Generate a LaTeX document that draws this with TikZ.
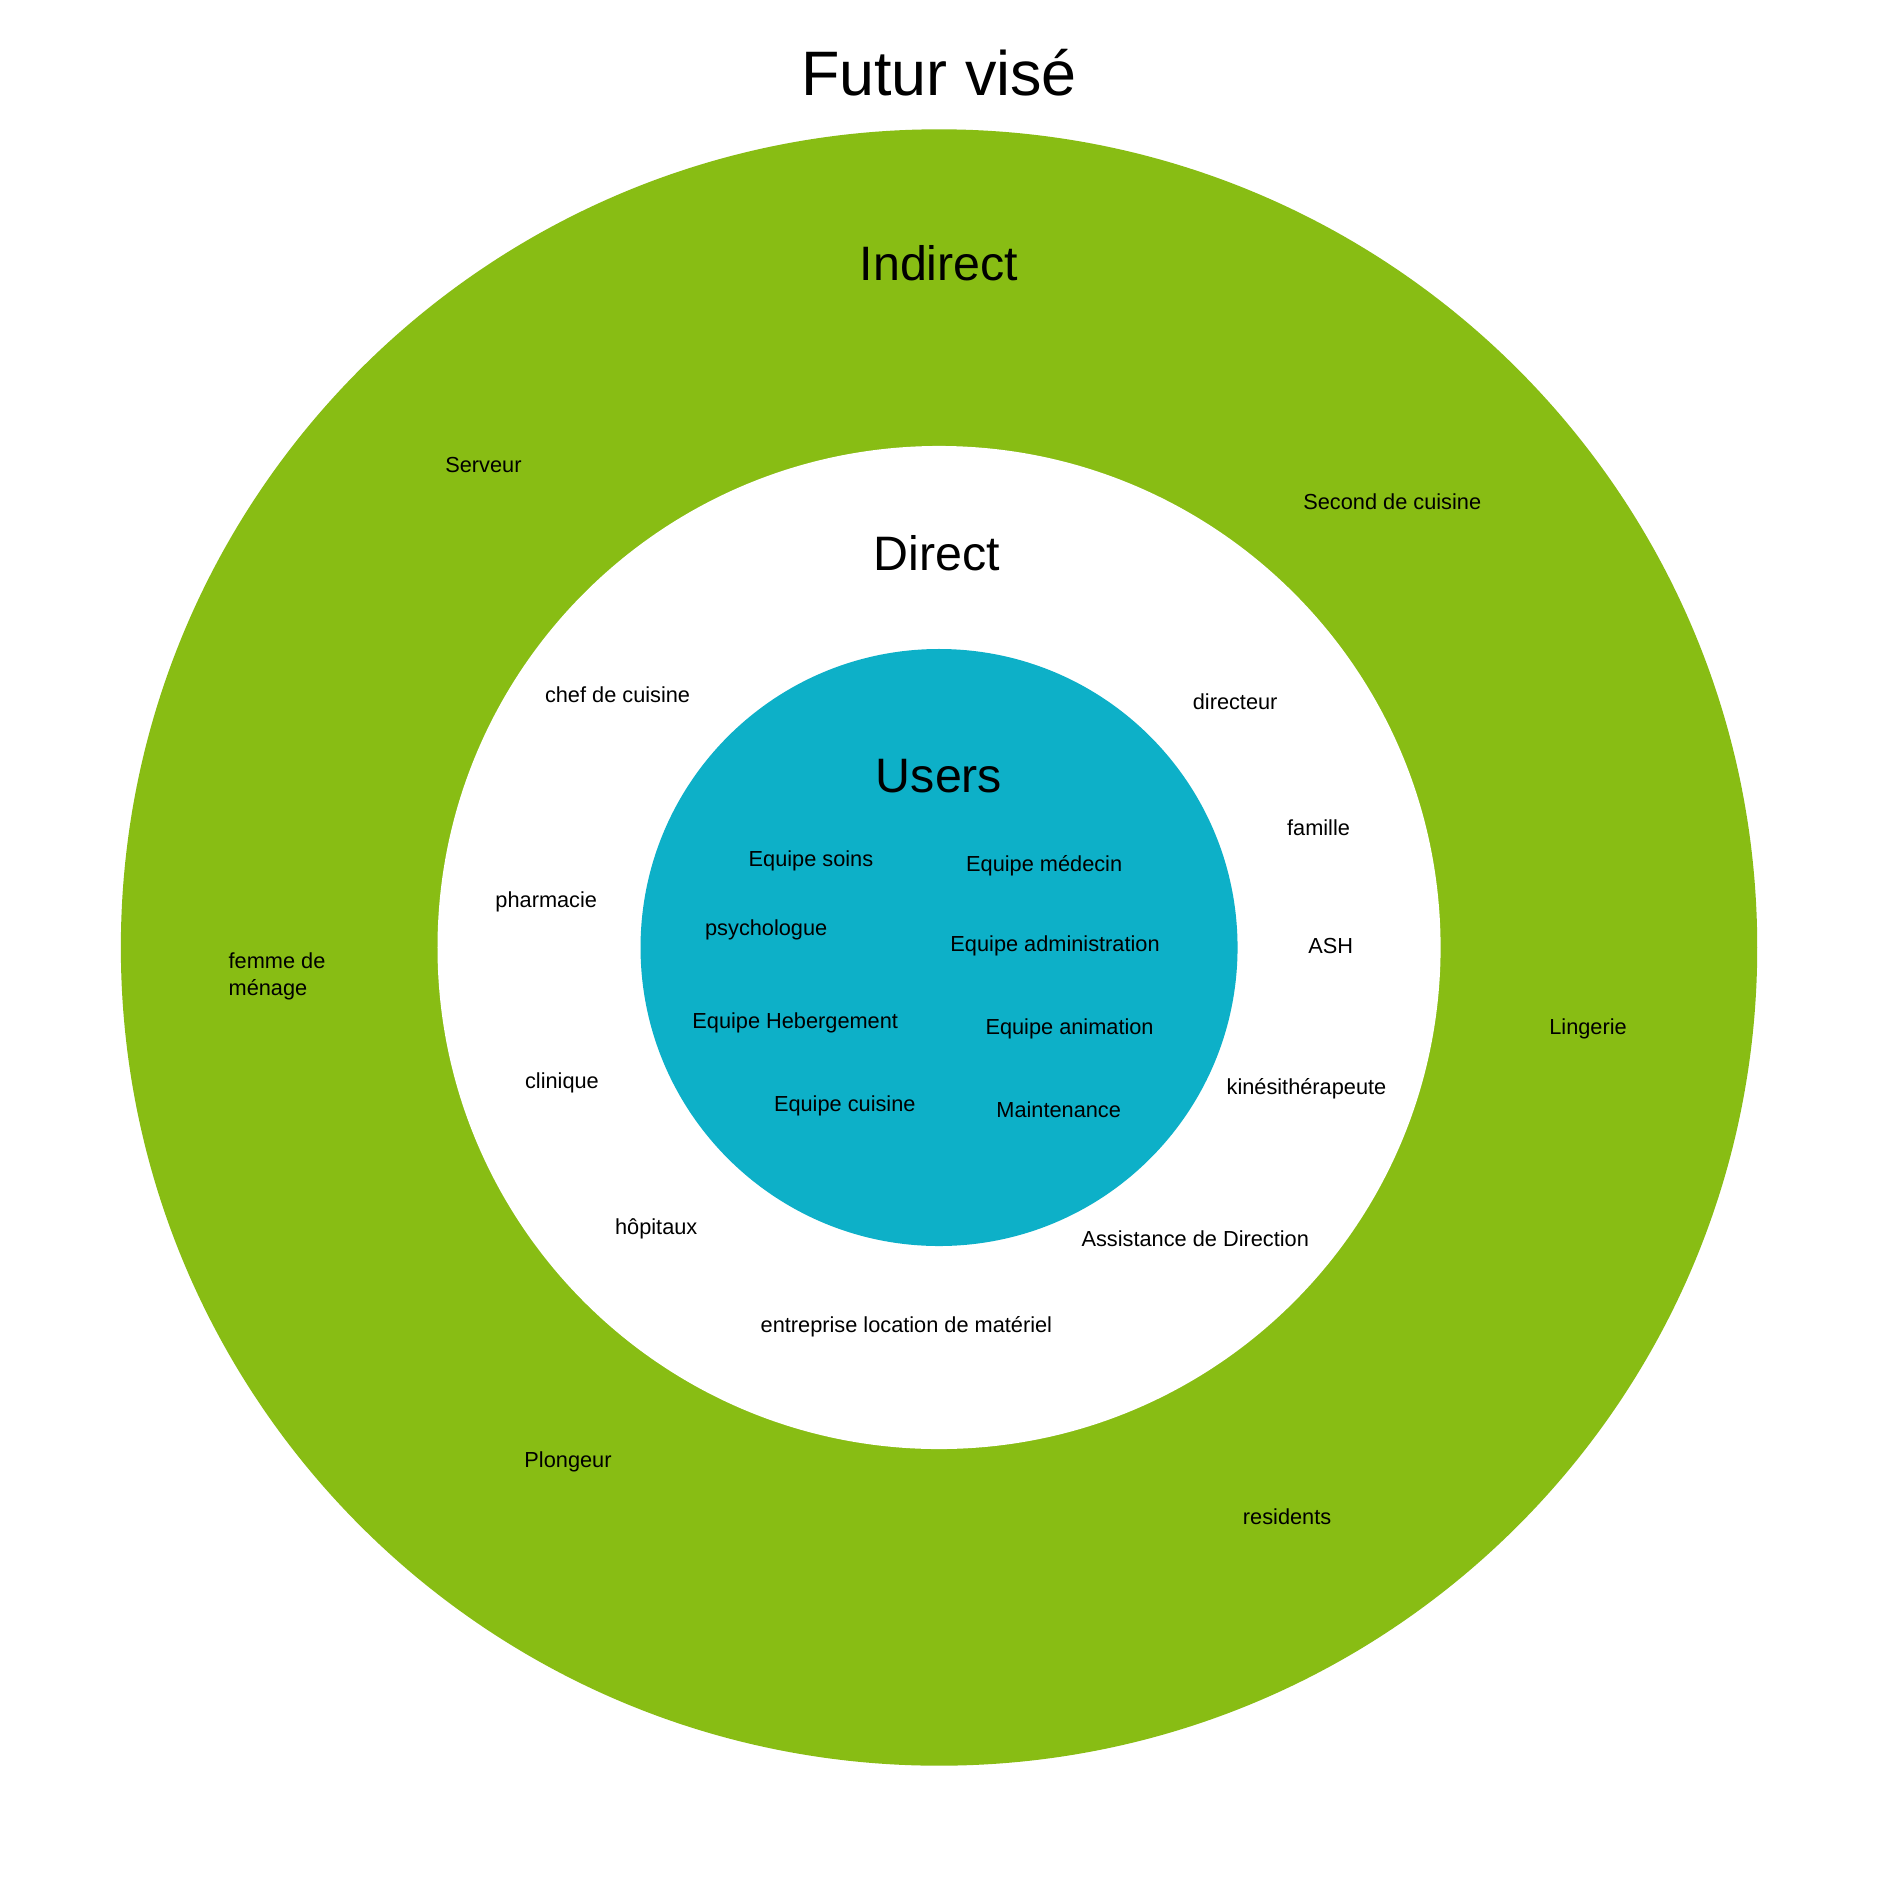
\documentclass[tikz,border=0pt]{standalone}
\usepackage{fontspec}
\setmainfont{Liberation Sans}
\definecolor{ring}{HTML}{88BD14}
\definecolor{core}{HTML}{0DB0C8}
\begin{document}
\begin{tikzpicture}[x=1pt,y=-1pt,
  lab/.style={font=\fontsize{18}{22}\selectfont, inner sep=0pt},
  big/.style={font=\fontsize{40}{48}\selectfont, inner sep=0pt}]
\useasboundingbox (0,0) rectangle (1556,1568);
\fill[white] (0,0) rectangle (1556,1568);
\fill[ring] (777,784) circle[radius=677];
\fill[white] (777,784) circle[radius=415];
\fill[core] (777,784) circle[radius=247];
\node[inner sep=0pt,font=\fontsize{52}{60}\selectfont] (t) at (777,60) {Futur visé};
\node[big] (ind) at (777,218) {Indirect};
\node[big] (dir) at (775,458) {Direct};
\node[big] (us) at (777,642) {Users};
\node[lab] (a1) at (400,385) {Serveur};
\node[lab] (a2) at (1152,415) {Second de cuisine};
\node[lab] (a3) at (511,575) {chef de cuisine};
\node[lab] (a4) at (1022,581) {directeur};
\node[lab] (a5) at (1091,685) {famille};
\node[lab] (a6) at (671,712) {Equipe soins};
\node[lab] (a7) at (864,716) {Equipe médecin};
\node[lab] (a8) at (452,746) {pharmacie};
\node[lab] (a9) at (634,769) {psychologue};
\node[lab] (a10) at (873,783) {Equipe administration};
\node[lab] (a11) at (1101,783) {ASH};
\node[lab,anchor=west,align=left] (a12) at (189,808) {femme de\\ménage};
\node[lab] (a13) at (658,846) {Equipe Hebergement};
\node[lab] (a14) at (885,851) {Equipe animation};
\node[lab] (a15) at (1314,851) {Lingerie};
\node[lab] (a16) at (465,896) {clinique};
\node[lab] (a17) at (1081,901) {kinésithérapeute};
\node[lab] (a18) at (699,915) {Equipe cuisine};
\node[lab] (a19) at (876,918) {Maintenance};
\node[lab] (a20) at (543,1017) {hôpitaux};
\node[lab] (a21) at (989,1025) {Assistance de Direction};
\node[lab] (a22) at (750,1098) {entreprise location de matériel};
\node[lab] (a23) at (470,1210) {Plongeur};
\node[lab] (a24) at (1065,1255) {residents};
\end{tikzpicture}
\end{document}
